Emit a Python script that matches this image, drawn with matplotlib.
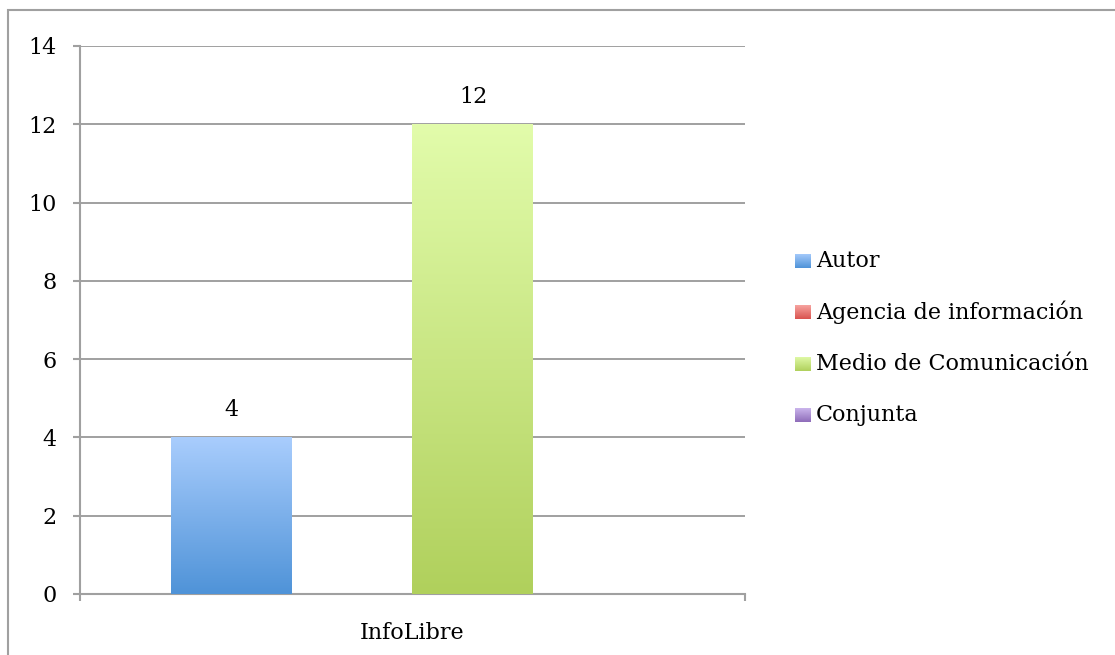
import matplotlib
matplotlib.use("Agg")
import matplotlib.pyplot as plt
import numpy as np
from matplotlib.colors import LinearSegmentedColormap
from matplotlib.patches import Rectangle
import matplotlib.patheffects as pe

plt.rcParams['font.family'] = ['DejaVu Serif']

categories = ["InfoLibre"]
series = ["Autor", "Agencia de información", "Medio de Comunicación", "Conjunta"]
values = [4, 0, 12, 0]
yticks = [0, 2, 4, 6, 8, 10, 12, 14]
# gradient (top, bottom) colours per series
grads = [("#a9cdfd", "#4f93d8"), ("#f9aaa6", "#d9534f"),
         ("#e2fcab", "#b0d05c"), ("#cfbaf0", "#8e6cb9")]

FS = 16
W, H = 1115, 655
fig = plt.figure(figsize=(W / 100, H / 100), dpi=100)
fig.patches.append(Rectangle((8 / W, -0.1), 1.2, (H - 10) / H + 0.1, transform=fig.transFigure,
                             fill=False, edgecolor="#a0a0a0", lw=1.5))
ax = fig.add_axes([80 / W, (H - 594) / H, 665 / W, 548 / H])

gray = "#a0a0a0"
n = len(series)
gap = 1.5
w = 1.0 / (n + gap)
start = -0.5 + gap * w / 2
grad = np.linspace(0, 1, 256).reshape(-1, 1)
for i, (s, v) in enumerate(zip(series, values)):
    x0 = start + i * w
    bar = ax.bar(x0, v, width=w, align="edge", color=grads[i][1], zorder=3,
                 linewidth=0)[0]
    if v > 0:
        bar.set_path_effects([pe.SimplePatchShadow(offset=(0, -1), alpha=0.25, shadow_rgbFace="k"),
                              pe.Normal()])
        cmap = LinearSegmentedColormap.from_list("g", [grads[i][1], grads[i][0]])
        im = ax.imshow(grad, extent=[x0, x0 + w, 0, v], origin="lower", cmap=cmap,
                       aspect="auto", zorder=4)
        im.set_clip_path(bar)
        ax.text(x0 + w / 2, v + 0.7, f"{v}", ha="center", va="center", fontsize=FS, zorder=5)

ax.set_xlim(-0.5, 0.5)
ax.set_ylim(0, 14)
ax.set_yticks(yticks)
ax.set_yticklabels([str(t) for t in yticks], fontsize=FS)
ax.set_xticks([-0.5, 0.5])
ax.set_xticklabels(["", ""])
ax.set_xticks([0], minor=True)
ax.set_xticklabels(categories, minor=True, fontsize=FS)
ax.tick_params(axis="x", which="minor", length=0, pad=20)
ax.tick_params(axis="x", which="major", length=5, color=gray, width=1.5, direction="out")
ax.tick_params(axis="y", length=5, color=gray, width=1.5, direction="out", pad=12)
ax.yaxis.grid(True, color=gray, lw=1.4, zorder=1)
ax.set_axisbelow(True)
for sp in ["top", "right"]:
    ax.spines[sp].set_visible(False)
for sp in ["left", "bottom"]:
    ax.spines[sp].set_color(gray)
    ax.spines[sp].set_linewidth(1.5)

# legend
rows_y = [261, 312, 364, 415]
for i, s in enumerate(series):
    yc = rows_y[i]
    lax = fig.add_axes([795 / W, (H - yc - 7.5) / H, 15 / W, 15 / H])
    cmap = LinearSegmentedColormap.from_list("g", [grads[i][1], grads[i][0]])
    lax.imshow(grad, origin="lower", cmap=cmap, aspect="auto", extent=[0, 1, 0, 1])
    lax.axis("off")
    fig.text(816 / W, (H - yc) / H, s, ha="left", va="center", fontsize=FS)

fig.savefig("out.png", dpi=100)
